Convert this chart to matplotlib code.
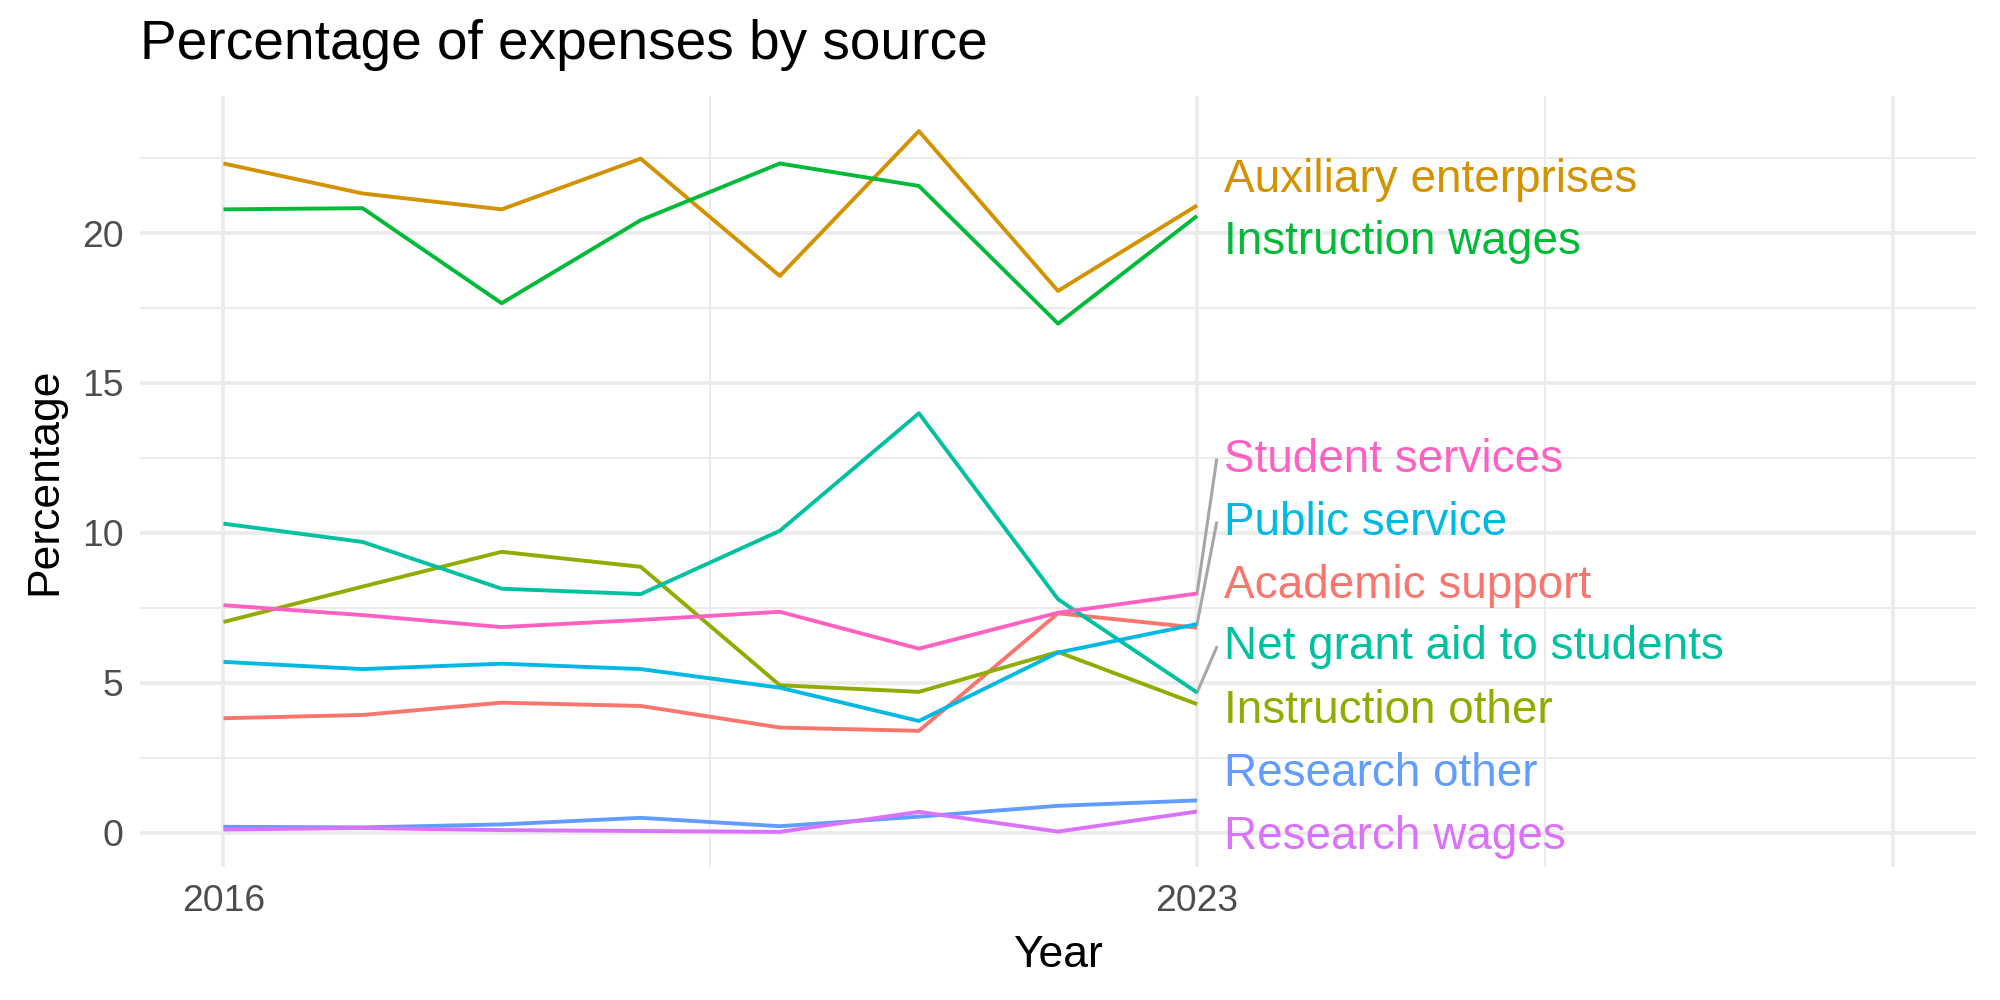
import matplotlib
matplotlib.use("Agg")
import matplotlib.pyplot as plt

plt.rcParams['font.family'] = ['Liberation Sans', 'DejaVu Sans']

years = [2016, 2017, 2018, 2019, 2020, 2021, 2022, 2023]

# series in alphabetical order (ggplot hue palette order)
academic_support = [3.82, 3.93, 4.34, 4.23, 3.51, 3.40, 7.32, 6.84]
auxiliary_enterprises = [22.32, 21.32, 20.79, 22.48, 18.57, 23.40, 18.07, 20.92]
instruction_other = [7.03, 8.21, 9.37, 8.87, 4.92, 4.70, 6.03, 4.29]
instruction_wages = [20.79, 20.83, 17.66, 20.43, 22.32, 21.57, 16.98, 20.57]
net_grant_aid = [10.31, 9.70, 8.14, 7.96, 10.07, 13.99, 7.79, 4.68]
public_service = [5.70, 5.46, 5.64, 5.46, 4.84, 3.73, 6.01, 6.96]
research_other = [0.20, 0.18, 0.28, 0.50, 0.22, 0.54, 0.90, 1.08]
research_wages = [0.11, 0.16, 0.09, 0.06, 0.03, 0.70, 0.04, 0.71]
student_services = [7.59, 7.26, 6.86, 7.10, 7.37, 6.14, 7.34, 7.98]

names = ["Academic support", "Auxiliary enterprises", "Instruction other",
         "Instruction wages", "Net grant aid to students", "Public service",
         "Research other", "Research wages", "Student services"]
series = [academic_support, auxiliary_enterprises, instruction_other,
          instruction_wages, net_grant_aid, public_service,
          research_other, research_wages, student_services]
colors = ["#F8766D", "#D39200", "#93AA00", "#00BA38", "#00C19F",
          "#00B9E3", "#619CFF", "#DB72FB", "#FF61C3"]

# repelled label positions (y) at the right end
label_y = [8.22, 21.76, 4.07, 19.69, 6.18, 10.33, 1.97, -0.13, 12.43]
# labels that got a connector segment
segment_names = ["Student services", "Public service", "Net grant aid to students"]

fig = plt.figure(figsize=(10, 5), dpi=200)
ax = fig.add_axes([0.070, 0.133, 0.918, 0.771])

grid = "#EBEBEB"
for x in [2019.5, 2025.5]:
    ax.axvline(x, color=grid, lw=0.7, zorder=0)
for x in [2016, 2023, 2028]:
    ax.axvline(x, color=grid, lw=1.3, zorder=0)
for y in [2.5, 7.5, 12.5, 17.5, 22.5]:
    ax.axhline(y, color=grid, lw=0.7, zorder=0)
for y in [0, 5, 10, 15, 20]:
    ax.axhline(y, color=grid, lw=1.3, zorder=0)

for name, vals, col, ly in zip(names, series, colors, label_y):
    ax.plot(years, vals, color=col, lw=1.4, zorder=3, solid_capstyle='butt')
    if name in segment_names:
        ax.plot([years[-1], 2023.14], [vals[-1], ly], color="#A6A6A6", lw=1.1, zorder=2)
    ax.text(2023.19, ly, name, color=col, fontsize=16.5, ha='left', va='center', zorder=4)

ax.set_xlim(2015.4, 2028.6)
ax.set_ylim(-1.14, 24.57)
ax.set_xticks([2016, 2023])
ax.set_yticks([0, 5, 10, 15, 20])
ax.tick_params(length=0, labelsize=13.4, labelcolor="#4D4D4D", pad=6)
for s in ax.spines.values():
    s.set_visible(False)

ax.set_xlabel("Year", fontsize=16, labelpad=6)
ax.set_ylabel("Percentage", fontsize=16, labelpad=6)
fig.text(0.070, 0.955, "Percentage of expenses by source", fontsize=19.8, ha='left', va='center')

fig.savefig("out.png", dpi=200, facecolor="white")
